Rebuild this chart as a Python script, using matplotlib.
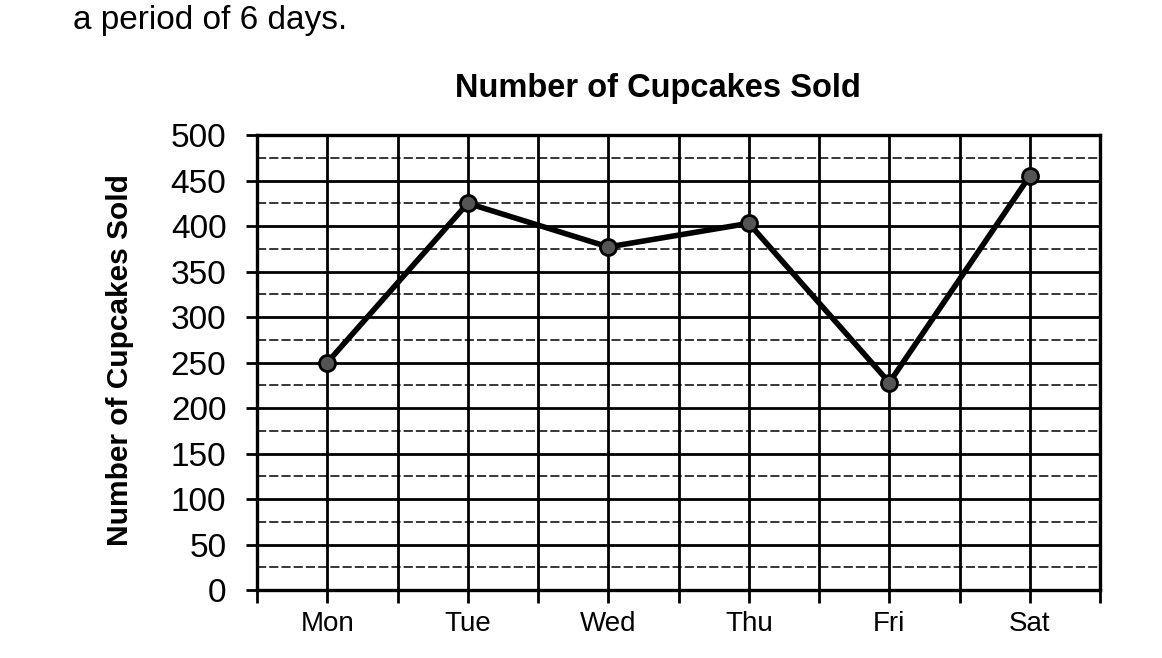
import matplotlib.pyplot as plt
from matplotlib.ticker import MultipleLocator

plt.rcParams['font.family'] = ['Liberation Sans', 'DejaVu Sans']

days = ['Mon', 'Tue', 'Wed', 'Thu', 'Fri', 'Sat']
cupcakes = [250, 425, 377, 403, 228, 455]
y_ticks = list(range(0, 501, 50))

fig = plt.figure(figsize=(11.62, 6.58), dpi=100)
ax = fig.add_axes([0.2212, 0.1033, 0.7255, 0.6915])

x = list(range(len(days)))
ax.plot(x, cupcakes, color='black', linewidth=4, zorder=5,
        marker='o', markersize=11.5, markerfacecolor='#555555',
        markeredgecolor='black', markeredgewidth=2)

ax.set_xlim(-0.5, len(days) - 0.5)
ax.set_ylim(0, 500)
ax.set_xticks(x)
ax.set_xticklabels(days, fontsize=20)
ax.xaxis.set_minor_locator(MultipleLocator(0.5))
ax.set_yticks(y_ticks)
ax.set_yticklabels([str(v) for v in y_ticks], fontsize=24)
ax.yaxis.set_minor_locator(MultipleLocator(25))

ax.grid(which='major', axis='both', color='black', linewidth=2)
ax.grid(which='minor', axis='x', color='black', linewidth=2)
ax.grid(which='minor', axis='y', color='black', linewidth=1.1, linestyle=(0, (6, 2)))

ax.tick_params(axis='x', which='both', direction='out', length=9, width=2, pad=6)
ax.tick_params(axis='y', which='major', direction='out', length=8, width=2, pad=14)
ax.tick_params(axis='y', which='minor', length=0)
for s in ax.spines.values():
    s.set_linewidth(2.4)

fig.text(658 / 1162, 1 - 88 / 658, 'Number of Cupcakes Sold', fontsize=23.5,
         fontweight='bold', ha='center', va='center')
fig.text(120 / 1162, 1 - 360 / 658, 'Number of Cupcakes Sold', fontsize=21.5,
         fontweight='bold', ha='center', va='center', rotation=90)
fig.text(73 / 1162, 1 - 20 / 658, 'a period of 6 days.', fontsize=24,
         ha='left', va='center')

fig.savefig('out.png', dpi=100)
